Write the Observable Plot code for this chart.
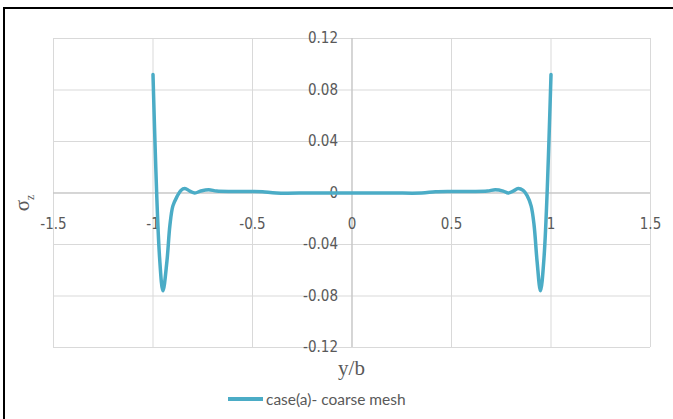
<!DOCTYPE html>
<html>
<head>
<meta charset="utf-8">
<script src="https://cdn.jsdelivr.net/npm/d3@7"></script>
<script src="https://cdn.jsdelivr.net/npm/@observablehq/plot@0.6"></script>
<style>
  html, body { margin: 0; padding: 0; background: #fff; }
  #wrap { position: relative; width: 673px; height: 419px; overflow: hidden; background: #fff; }
  #frame { position: absolute; left: 3px; top: 7px; width: 680px; height: 420px;
           border-top: 2px solid #000; border-left: 2px solid #000; box-sizing: border-box; }
  #chart { position: absolute; left: 0; top: 0; }
  .xtitle { position: absolute; left: 0; width: 703px; top: 356px; text-align: center;
            font-family: "Liberation Serif", serif; font-size: 21px; color: #595959; }
  .ytitle { position: absolute; left: 12px; top: 203px; transform: translate(-50%, -50%) rotate(-90deg);
            transform-origin: center; font-family: "Liberation Serif", serif; font-size: 21px; color: #595959; white-space: nowrap; left: 24px; }
  .ytitle sub { font-size: 12px; }
  .legend { position: absolute; left: 228px; top: 390px; display: flex; align-items: center;
            font-family: Lato, "Open Sans", sans-serif; font-size: 15.5px; color: #595959; }
  .legend .sw { width: 35px; height: 3.5px; background: #4bacc6; margin-right: 3px; }
</style>
</head>
<body>
<div id="wrap">
  <div id="frame"></div>
  <div id="chart"></div>
  <div class="ytitle">σ<sub>z</sub></div>
  <div class="xtitle">y/b</div>
  <div class="legend"><div class="sw"></div><span id="legtext"></span></div>
</div>
<script>
const seriesName = "case(a)- coarse mesh";
const xTicks = [-1.5, -1, -0.5, 0, 0.5, 1, 1.5];
const yTicks = [-0.12, -0.08, -0.04, 0, 0.04, 0.08, 0.12];
const xLabels = ["-1.5", "-1", "-0.5", "0", "0.5", "1", "1.5"];
const yLabels = ["-0.12", "-0.08", "-0.04", "0", "0.04", "0.08", "0.12"];

const yb = [-1.0, -0.967, -0.95, -0.93, -0.915, -0.9, -0.88, -0.86, -0.84, -0.815, -0.79, -0.76, -0.72, -0.68, -0.6, -0.5, -0.45, -0.38, -0.2, 0, 0.2, 0.35, 0.42, 0.5, 0.6, 0.68, 0.72, 0.76, 0.785, 0.81, 0.835, 0.86, 0.88, 0.9, 0.915, 0.93, 0.947, 0.965, 1.0];
const sigmaZ = [0.092, -0.05, -0.076, -0.053, -0.025, -0.01, -0.003, 0.002, 0.0035, 0.0015, 0.0, 0.0015, 0.0025, 0.0015, 0.0012, 0.0012, 0.001, 0.0, 0, 0, 0, 0, 0.001, 0.0012, 0.0012, 0.0015, 0.0025, 0.0015, 0.0, 0.0015, 0.0035, 0.002, -0.002, -0.01, -0.025, -0.053, -0.076, -0.05, 0.092];

const data = yb.map((x, i) => ({x, y: sigmaZ[i]}));
const xt = xTicks.map((v, i) => ({v, t: xLabels[i]}));
const yt = yTicks.map((v, i) => ({v, t: yLabels[i]}));

const tickFont = '"Liberation Sans Narrow", "DejaVu Sans Condensed", sans-serif';

const chart = Plot.plot({
  width: 673,
  height: 360,
  marginTop: 38,
  marginBottom: 13,
  marginLeft: 53,
  marginRight: 23,
  x: {domain: [-1.5, 1.5], axis: null},
  y: {domain: [-0.12, 0.12], axis: null},
  style: {background: "transparent", overflow: "visible"},
  marks: [
    Plot.ruleX(xTicks, {stroke: "#d9d9d9", strokeWidth: 1}),
    Plot.ruleY(yTicks, {stroke: "#d9d9d9", strokeWidth: 1}),
    Plot.ruleX([0], {stroke: "#bfbfbf", strokeWidth: 1}),
    Plot.ruleY([0], {stroke: "#bfbfbf", strokeWidth: 1}),
    Plot.text(yt, {x: 0, y: "v", text: "t", dx: -14, textAnchor: "end", fill: "#595959",
                   fontSize: 15, fontFamily: tickFont}),
    Plot.text(xt, {x: "v", y: 0, text: "t", dy: 31, fill: "#595959",
                   fontSize: 15, fontFamily: tickFont}),
    Plot.line(data, {x: "x", y: "y", stroke: "#4bacc6", strokeWidth: 3.5, curve: "catmull-rom"})
  ]
});
document.getElementById("chart").appendChild(chart);
document.getElementById("legtext").textContent = seriesName;
</script>
</body>
</html>
